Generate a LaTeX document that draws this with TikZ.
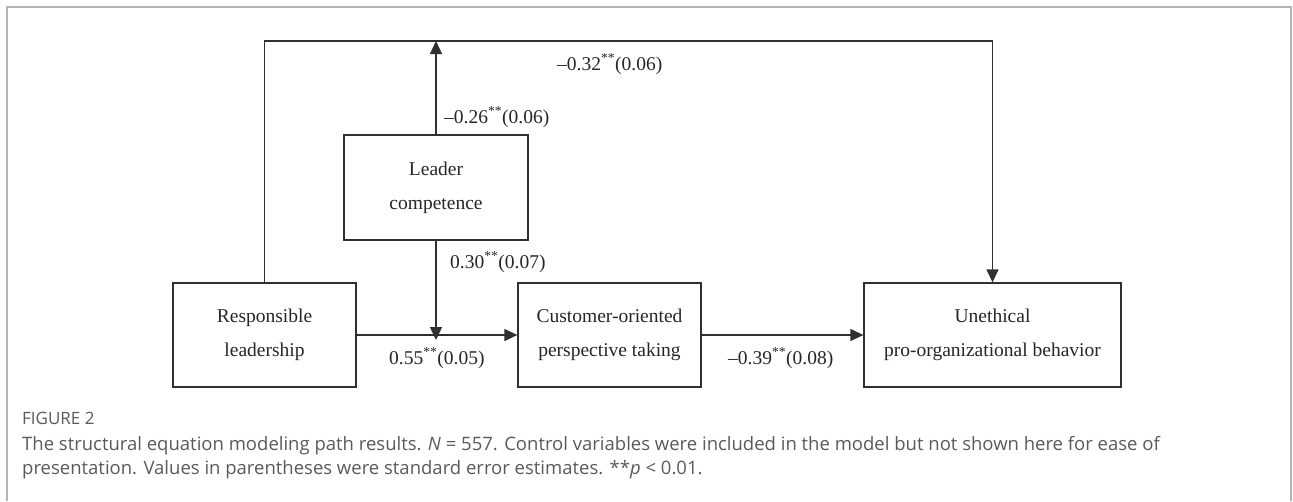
\documentclass[tikz,border=0pt]{standalone}
\usepackage{fontspec}
\setmainfont{Liberation Serif}
\newfontfamily\capfont{Open Sans}
\usetikzlibrary{arrows.meta}
\definecolor{linec}{HTML}{303030}
\definecolor{capc}{HTML}{5A5A5A}
\definecolor{framec}{HTML}{B4B4B4}
\begin{document}
\begin{tikzpicture}[x=1pt,y=-1pt,
  box/.style={draw=linec, line width=1.3pt, minimum height=104pt, inner sep=0pt, align=center,
    font=\fontsize{19.5}{34}\selectfont, text=black!85},
  conn/.style={draw=linec, line width=1.3pt},
  arr/.style={conn, -{Triangle[length=13pt,width=12pt]}},
  lab/.style={font=\fontsize{19.5}{23}\selectfont, anchor=base west, inner sep=0pt, text=black!85},
  capstyle/.style={anchor=base west, inner sep=0pt, text=capc, font=\capfont\fontsize{18.5}{22}\selectfont},
  figstyle/.style={anchor=base west, inner sep=0pt, text=capc, font=\capfont\fontsize{17}{20}\selectfont}]
\useasboundingbox (0,0) rectangle (1293,501);
\draw[framec, line width=1.2pt] (7,501) -- (7,7) -- (1291,7) -- (1291,501);

\node[box, minimum width=183pt] (rl) at (264.5,335) {Responsible\\leadership};
\node[box, minimum width=183pt] (cop) at (609.5,335) {Customer-oriented\\perspective taking};
\node[box, minimum width=257pt] (upb) at (992.5,335) {Unethical\\pro-organizational behavior};
\node[box, minimum width=184pt, minimum height=105pt] (lc) at (436,187.5) {Leader\\competence};

\coordinate (tl) at (264.5,41);
\coordinate (up) at (436,41);
\coordinate (mid) at (436,340);

\draw[arr] (rl.north) -- (tl) -| (upb.north);
\draw[arr] (lc.north) -- (up);
\draw[arr] (lc.south) -- (mid);
\draw[arr] (rl.east) -- (cop.west);
\draw[arr] (cop.east) -- (upb.west);

\node[lab] (l32) at (557,70) {–0.32\textsuperscript{**}(0.06)};
\node[lab] (l26) at (444,123) {–0.26\textsuperscript{**}(0.06)};
\node[lab] (l30) at (450,268) {0.30\textsuperscript{**}(0.07)};
\node[lab] (l55) at (389,364) {0.55\textsuperscript{**}(0.05)};
\node[lab] (l39) at (728,364) {–0.39\textsuperscript{**}(0.08)};

\node[figstyle] (fig) at (22,424) {FIGURE 2};
\node[capstyle] (c1) at (22,450) {The structural equation modeling path results. \textit{N} = 557. Control variables were included in the model but not shown here for ease of};
\node[capstyle] (c2) at (22,474) {presentation. Values in parentheses were standard error estimates. **\textit{p} < 0.01.};
\end{tikzpicture}
\end{document}
